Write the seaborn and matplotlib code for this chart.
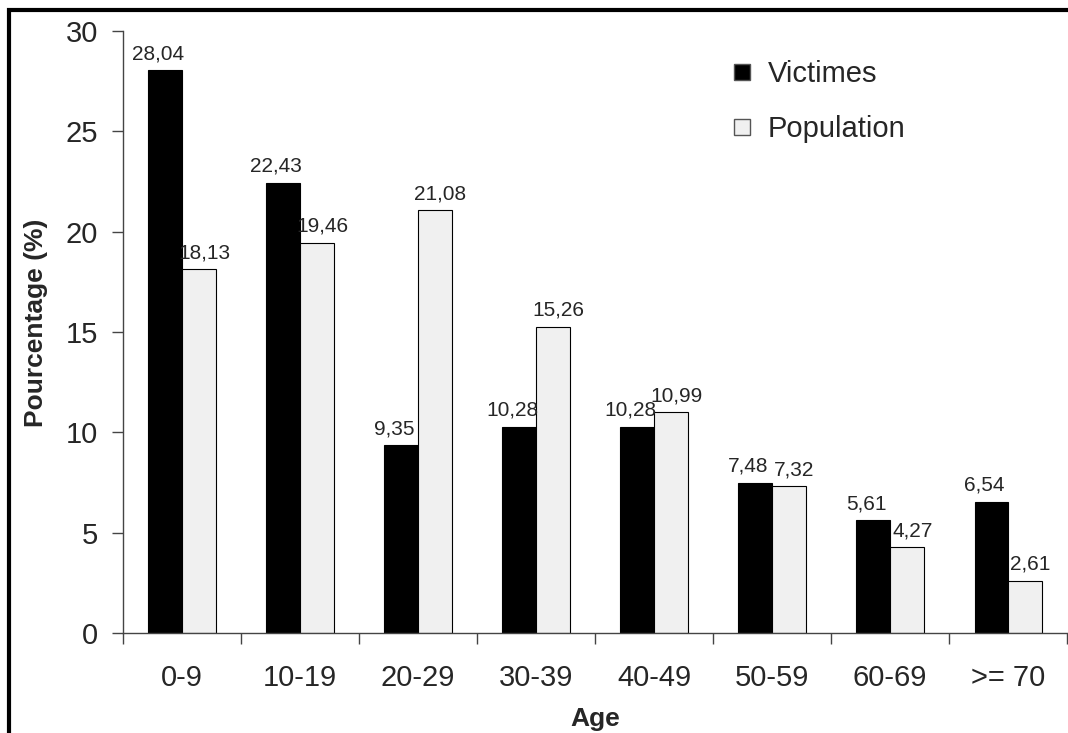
import pandas as pd
import seaborn as sns
import matplotlib.pyplot as plt
from matplotlib.lines import Line2D
from matplotlib.patches import Rectangle

ages = ["0-9", "10-19", "20-29", "30-39", "40-49", "50-59", "60-69", ">= 70"]
victimes = [28.04, 22.43, 9.35, 10.28, 10.28, 7.48, 5.61, 6.54]
population = [18.13, 19.46, 21.08, 15.26, 10.99, 7.32, 4.27, 2.61]
series = ["Victimes", "Population"]
colors = ["#000000", "#f0f0f0"]

df = pd.DataFrame({
    "age": ages * 2,
    "value": victimes + population,
    "group": [series[0]] * len(ages) + [series[1]] * len(ages),
})

sns.set_theme(style="ticks")
plt.rcParams["font.family"] = ["Liberation Sans", "DejaVu Sans"]

fig = plt.figure(figsize=(10.68, 7.33), dpi=100)
ax = fig.add_axes([0.1152, 0.1364, 0.884, 0.8213])

sns.barplot(data=df, x="age", y="value", hue="group", order=ages,
            hue_order=series, palette=colors, width=0.57,
            edgecolor="black", linewidth=0.8, saturation=1,
            legend=False, ax=ax)

# value labels, decimal comma; nudge the pairs apart a little like the original
for cont, dx in zip(ax.containers, [-5, 4]):
    labels = [f"{b.get_height():.2f}".replace(".", ",") for b in cont]
    texts = ax.bar_label(cont, labels=labels, padding=5, fontsize=15)
    for t in texts:
        t.set_position((dx, 5))

ax.set_ylim(0, 30)
ax.set_xlim(-0.5, len(ages) - 0.5)
ax.set_yticks(range(0, 31, 5))
ax.set_xticks([i - 0.5 for i in range(len(ages) + 1)])
ax.set_xticklabels([])
ax.set_xticks(range(len(ages)), minor=True)
ax.set_xticklabels(ages, minor=True)
ax.tick_params(axis="x", which="minor", length=0, labelsize=21, pad=22)
ax.tick_params(axis="x", which="major", length=8, width=1, color="#444444", direction="out")
ax.tick_params(axis="y", length=8, width=1, color="#444444", labelsize=21, pad=10)

sns.despine(ax=ax)
for s in ["left", "bottom"]:
    ax.spines[s].set_color("#444444")
    ax.spines[s].set_linewidth(1)

ax.set_xlabel("Age", fontsize=19, fontweight="bold", labelpad=11)
ax.set_ylabel("Pourcentage (%)", fontsize=19, fontweight="bold")
ax.yaxis.set_label_coords(-0.08, 0.515)

handles = [Line2D([], [], marker="s", linestyle="", markersize=11,
                  markerfacecolor=c, markeredgecolor="#555555")
           for c in colors]
ax.legend(handles, series, loc="upper left", bbox_to_anchor=(0.612, 0.995),
          frameon=False, fontsize=21, handlelength=1.0, handletextpad=0.4,
          labelspacing=0.92)

# frame around the whole picture (cut at right and bottom in the original)
fig.add_artist(Rectangle((9 / 1068, -0.05), 1.2, 0.05 + 1 - 10 / 733,
                         transform=fig.transFigure, fill=False,
                         edgecolor="black", linewidth=3, clip_on=False))

fig.savefig("out.png", dpi=100)
